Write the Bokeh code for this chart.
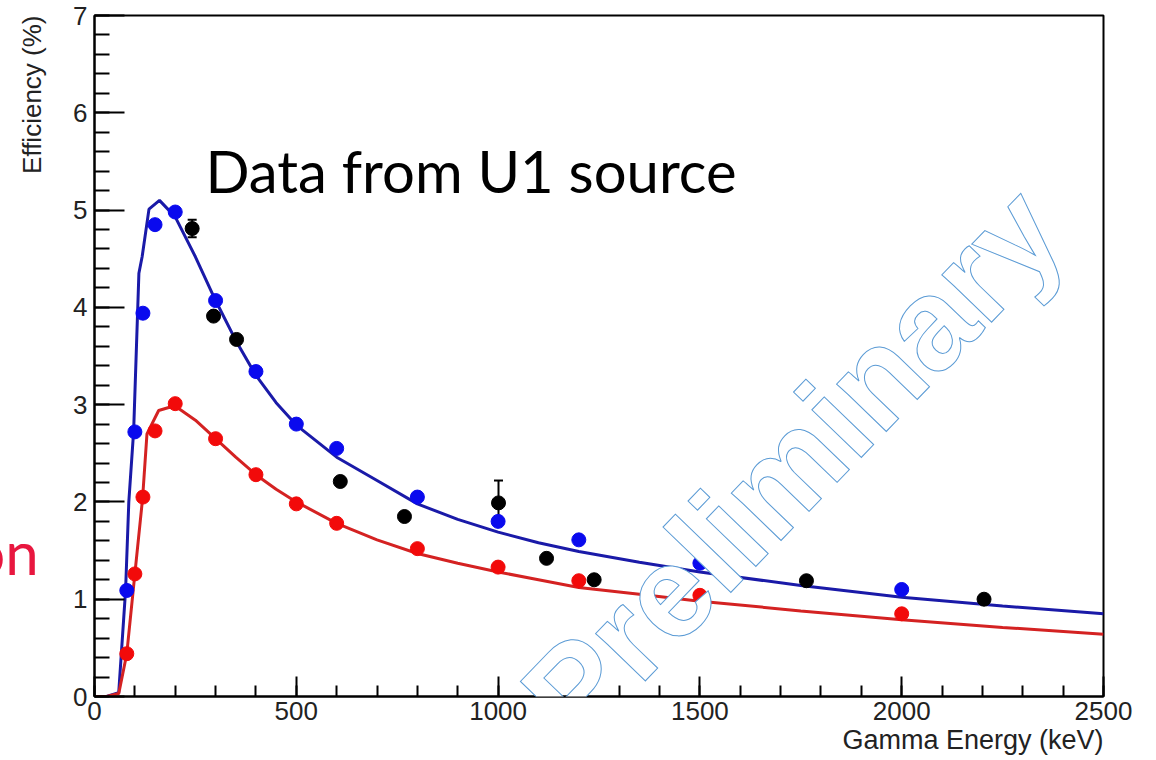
import math
from bokeh.plotting import figure
from bokeh.models import (Range1d, SingleIntervalTicker, Label, Whisker, Title,
                          ColumnDataSource, TeeHead)
from bokeh.embed import file_html
from bokeh.resources import INLINE

# ---- data ----
sim_energy = [80, 100, 120, 150, 200, 300, 400, 500, 600, 800, 1000, 1200, 1500, 2000]
sim_eff_blue = [1.09, 2.72, 3.94, 4.85, 4.98, 4.07, 3.34, 2.80, 2.55, 2.05, 1.80, 1.61, 1.37, 1.10]
sim_eff_red = [0.44, 1.26, 2.05, 2.73, 3.01, 2.65, 2.28, 1.98, 1.78, 1.52, 1.33, 1.19, 1.04, 0.85]

u1_energy = [242, 295, 352, 609, 768, 1001, 1120, 1238, 1764, 2204]
u1_eff = [4.81, 3.91, 3.67, 2.21, 1.85, 1.99, 1.42, 1.20, 1.19, 1.00]
u1_err = [0.09, 0.03, 0.03, 0.03, 0.03, 0.23, 0.03, 0.03, 0.03, 0.03]

fit_blue_energy = [0, 30, 60, 77, 85, 97, 110, 118, 135, 161, 200, 250, 300, 350, 400, 450,
                   500, 600, 700, 800, 900, 1000, 1100, 1200, 1350, 1500, 1750, 2000, 2250, 2500]
fit_blue_eff = [0.0, 0.0, 0.04, 1.09, 2.0, 2.73, 4.35, 4.52, 5.01, 5.10, 4.93, 4.52, 4.07, 3.66, 3.30, 3.02,
                2.79, 2.46, 2.22, 1.98, 1.82, 1.69, 1.58, 1.49, 1.38, 1.28, 1.14, 1.02, 0.93, 0.85]

fit_red_energy = [0, 30, 60, 80, 100, 119, 130, 159, 184, 205, 250, 300, 350, 400, 450, 500,
                  600, 700, 800, 900, 1000, 1100, 1200, 1350, 1500, 1750, 2000, 2250, 2500]
fit_red_eff = [0.0, 0.0, 0.03, 0.44, 1.26, 2.03, 2.70, 2.94, 2.97, 2.97, 2.84, 2.65, 2.46, 2.28, 2.13, 2.00,
               1.78, 1.61, 1.47, 1.37, 1.28, 1.20, 1.12, 1.05, 0.98, 0.88, 0.79, 0.71, 0.64]

x_title = "Gamma Energy (keV)"
y_title = "Efficiency (%)"

AX_FONT = "Liberation Sans"

p = figure(width=1156, height=760, output_backend="svg", toolbar_location=None,
           x_range=Range1d(0, 2500), y_range=Range1d(0, 7),
           min_border_left=94, min_border_right=53, min_border_top=15, min_border_bottom=64)
p.background_fill_color = "white"
p.border_fill_color = "white"
p.outline_line_color = "black"
p.outline_line_width = 2
p.xgrid.visible = False
p.ygrid.visible = False

p.xaxis.ticker = SingleIntervalTicker(interval=500, num_minor_ticks=5)
p.yaxis.ticker = SingleIntervalTicker(interval=1, num_minor_ticks=5)
for ax in (p.xaxis, p.yaxis):
    ax.axis_line_color = "black"
    ax.axis_line_width = 2
    ax.major_tick_line_color = "black"
    ax.major_tick_line_width = 2
    ax.minor_tick_line_color = "black"
    ax.minor_tick_line_width = 2
    ax.major_tick_out = 0
    ax.minor_tick_out = 0
    ax.major_label_text_font = AX_FONT
    ax.major_label_text_font_size = "26px"
    ax.major_label_text_color = "#222222"
p.xaxis.major_tick_in = 20
p.xaxis.minor_tick_in = 11
p.yaxis.major_tick_in = 30
p.yaxis.minor_tick_in = 15
p.xaxis.major_label_standoff = 5
p.yaxis.major_label_standoff = 7

# x-axis title: side-panel title, right aligned (ROOT style)
p.add_layout(Title(text=x_title, align="right", standoff=0,
                   text_font=AX_FONT, text_font_size="27px", text_font_style="normal",
                   text_color="#222222"), "below")

# fit curves
p.line(fit_blue_energy, fit_blue_eff, line_color="#1a1aa8", line_width=3)
p.line(fit_red_energy, fit_red_eff, line_color="#d42222", line_width=3)

# error bars for the U1 data
src_u1 = ColumnDataSource(dict(
    x=u1_energy, y=u1_eff,
    upper=[v + e for v, e in zip(u1_eff, u1_err)],
    lower=[v - e for v, e in zip(u1_eff, u1_err)]))
w = Whisker(base="x", upper="upper", lower="lower", source=src_u1,
            line_color="black", line_width=2,
            upper_head=TeeHead(size=9, line_color="black", line_width=2),
            lower_head=TeeHead(size=9, line_color="black", line_width=2))
p.add_layout(w)

p.scatter(sim_energy, sim_eff_blue, size=14, fill_color="#0a0aee", line_color="#0a0aee")
p.scatter(sim_energy, sim_eff_red, size=14, fill_color="#f20a0a", line_color="#f20a0a")
p.scatter("x", "y", source=src_u1, size=14, fill_color="black", line_color="black")

# texts that sit outside the frame live in side panels (not clipped to the frame)
p.add_layout(Label(x=-138, y=1.49, x_units="data", y_units="data",
                   text="on", text_align="right", text_baseline="alphabetic",
                   text_font="Lato", text_font_size="60px", text_color="#e8173f"), "left")
p.add_layout(Label(x=-154, y=7, x_units="data", y_units="data",
                   text=y_title, angle=math.pi / 2, text_align="right",
                   text_baseline="alphabetic",
                   text_font=AX_FONT, text_font_size="26px", text_color="#222222"), "right")

# annotations inside the frame
p.add_layout(Label(x=111, y=526, x_units="screen", y_units="screen",
                   text="Data from U1 source", text_align="left", text_baseline="alphabetic",
                   text_font="Lato", text_font_size="58px", text_color="black"))
p.add_layout(Label(x=452, y=-22, x_units="screen", y_units="screen", level="overlay",
                   text="Preliminary", angle=math.radians(46), text_align="left",
                   text_baseline="alphabetic",
                   text_font="Liberation Sans", text_font_style="bold", text_font_size="130px",
                   text_color="white", text_outline_color="#5b9bd5"))

open("out.html", "w").write(file_html(p, INLINE))
